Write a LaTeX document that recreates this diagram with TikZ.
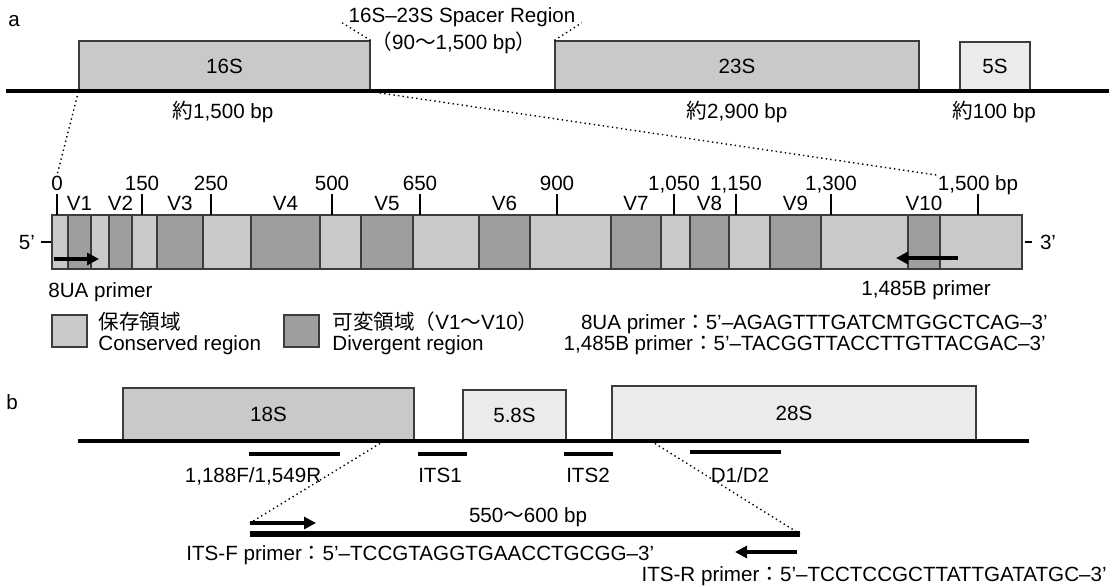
\documentclass[tikz,border=0pt]{standalone}
\usepackage{fontspec}
\setmainfont{Liberation Sans}
\newfontfamily\jp{Noto Sans CJK JP}
\usetikzlibrary{arrows.meta,positioning,fit}

\definecolor{consgray}{HTML}{C8C9CB}
\definecolor{divgray}{HTML}{9D9EA0}
\definecolor{palegray}{HTML}{EBEBEB}
\definecolor{edgegray}{HTML}{3C3C3C}

\tikzset{
  lbl/.style={inner sep=0pt, text height=7.4pt, text depth=0pt},
  gene/.style={draw=edgegray, line width=0.6pt, fill=consgray, inner sep=0pt},
  genepale/.style={gene, fill=palegray},
  strand/.style={line width=1.6pt},
  marker/.style={line width=2pt},
  amplicon/.style={line width=2.7pt},
  zoomline/.style={line width=0.7pt, dash pattern=on 0.7pt off 1.6pt},
  primer/.style={line width=1.8pt, -{Triangle[length=6pt,width=6pt]}},
  tickmark/.style={line width=0.8pt},
}

\begin{document}
\begin{tikzpicture}[x=0.5pt, y=-0.5pt, font=\fontsize{10.3}{12}\selectfont]
  \useasboundingbox (0,0) rectangle (1112,587);

  % a: 16S-23S-5S operon
  \node[lbl] (pa) at (14,19) {a};
  \node[gene, fit={(79,41) (370,91)}] (s16) {};
  \node[gene, fit={(555,41) (919,91)}] (s23) {};
  \node[genepale, fit={(960,42) (1030,91)}] (s5) {};
  \node[lbl] (t16) at (s16) {16S};
  \node[lbl] (t23) at (s23) {23S};
  \node[lbl] (t5) at (s5) {5S};
  \coordinate (a0) at (6,91);
  \coordinate (a1) at (1109,91);
  \draw[strand] (a0) -- (a1);
  \node[lbl] (len16) at (223,111) {{\jp 約}1,500 bp};
  \node[lbl] (len23) at (737,111) {{\jp 約}2,900 bp};
  \node[lbl] (len5) at (994,111) {{\jp 約}100 bp};
  \node[lbl] (spacer) at (462,15) {16S--23S Spacer Region};
  \node[lbl] (spacerbp) at (454,42) {{\jp （}90{\jp ～}1,500 bp{\jp ）}};
  \draw[zoomline] (s16.north east) -- ([xshift=-3pt]spacer.south west);
  \draw[zoomline] (s23.north west) -- ([xshift=3pt]spacer.south east);

  % 16S rRNA gene with V regions
  \node[gene, fit={(52,215) (1022,269)}] (bar) {};
  \foreach \a/\b/\v in {68/91/V1, 109/132/V2, 157/203/V3, 251/320/V4, 361/413/V5,
                        479/530/V6, 611/661/V7, 690/729/V8, 770/821/V9, 908/940/V10} {
    \draw[gene, fill=divgray] (\a,215) rectangle (\b,269);
    \node[lbl] (\v) at ({(\a+\b)/2},203) {\v};
  }
  \foreach \x/\n in {57/0, 142/150, 211/250, 332/500, 420/650, 557/900,
                     674/{1,050}, 736/{1,150}, 831/{1,300}, 978/{1,500 bp}} {
    \draw[tickmark] (\x,194) -- (\x,215);
    \node[lbl] (tk\x) at (\x,183) {\n};
  }
  \draw[zoomline] (s16.south west) -- (tk57.north);
  \draw[zoomline] (s16.south east) -- (tk978.north west);

  \coordinate (dash5) at ([xshift=-5pt]bar.west);
  \draw[tickmark] (bar.west) -- (dash5);
  \node[lbl, anchor=east] (five) at ([xshift=-3pt]dash5) {5'};
  \coordinate (dash3a) at ([xshift=1pt]bar.east);
  \coordinate (dash3b) at ([xshift=4.5pt]bar.east);
  \draw[tickmark] (dash3a) -- (dash3b);
  \node[lbl, anchor=west] (three) at ([xshift=4pt]dash3b) {3'};

  \coordinate (fa0) at (54,259);
  \coordinate (fa1) at (99,259);
  \draw[primer] (fa0) -- (fa1);
  \coordinate (ra0) at (958,258);
  \coordinate (ra1) at (896,258);
  \draw[primer] (ra0) -- (ra1);
  \node[lbl, anchor=west] (pri8) at (48,290) {8UA primer};
  \node[lbl, anchor=west] (pri1485) at (861,288) {1,485B primer};

  % legend
  \node[gene, fit={(52,315) (87,347)}] (keycons) {};
  \node[lbl, anchor=west] (keyconsjp) at (98,322) {{\jp 保存領域}};
  \node[lbl, anchor=west] (keyconsen) at (98,343) {Conserved region};
  \node[gene, fill=divgray, fit={(284,315) (319,347)}] (keydiv) {};
  \node[lbl, anchor=west] (keydivjp) at (332,322) {{\jp 可変領域（}V1{\jp ～}V10{\jp ）}};
  \node[lbl, anchor=west] (keydiven) at (332,343) {Divergent region};
  \node[lbl, anchor=east] (seq8) at (1048,322) {8UA primer{\jp ：}5'--AGAGTTTGATCMTGGCTCAG--3'};
  \node[lbl, anchor=east] (seq1485) at (1046,343) {1,485B primer{\jp ：}5'--TACGGTTACCTTGTTACGAC--3'};

  % b: 18S-5.8S-28S
  \node[lbl] (pb) at (12,402) {b};
  \node[gene, fit={(123,388) (414,441)}] (s18) {};
  \node[genepale, fit={(463,390) (566,441)}] (s58) {};
  \node[genepale, fit={(612,386) (976,441)}] (s28) {};
  \node[lbl] (t18) at (s18) {18S};
  \node[lbl] (t58) at (s58) {5.8S};
  \node[lbl] (t28) at (s28) {28S};
  \coordinate (b0) at (78,441);
  \coordinate (b1) at (1029,441);
  \draw[strand] (b0) -- (b1);

  \draw[marker] (249,454) -- (340,454);
  \draw[marker] (418,454) -- (467,454);
  \draw[marker] (564,454) -- (613,454);
  \draw[marker] (690,452) -- (781,452);
  \node[lbl] (m18) at (253,475) {1,188F/1,549R};
  \node[lbl] (its1) at (440,475) {ITS1};
  \node[lbl] (its2) at (588,475) {ITS2};
  \node[lbl] (d12) at (740,475) {D1/D2};

  \coordinate (z0) at (384,441);
  \coordinate (z1) at (651,441);
  \coordinate (amp0) at (250,534);
  \coordinate (amp1) at (800,534);
  \coordinate (fb0) at (250,523);
  \coordinate (fb1) at (316,523);
  \draw[amplicon] (amp0) -- (amp1);
  \draw[zoomline] (z0) -- (fb0);
  \draw[zoomline] (z1) -- (amp1);
  \node[lbl] (amplen) at (528,515) {550{\jp ～}600 bp};
  \draw[primer] (fb0) -- (fb1);
  \coordinate (rb0) at (797,552);
  \coordinate (rb1) at (735,552);
  \draw[primer] (rb0) -- (rb1);
  \node[lbl, anchor=west] (itsf) at (186,553) {ITS-F primer{\jp ：}5'--TCCGTAGGTGAACCTGCGG--3'};
  \node[lbl, anchor=east] (itsr) at (1107,574) {ITS-R primer{\jp ：}5'--TCCTCCGCTTATTGATATGC--3'};
\end{tikzpicture}
\end{document}
